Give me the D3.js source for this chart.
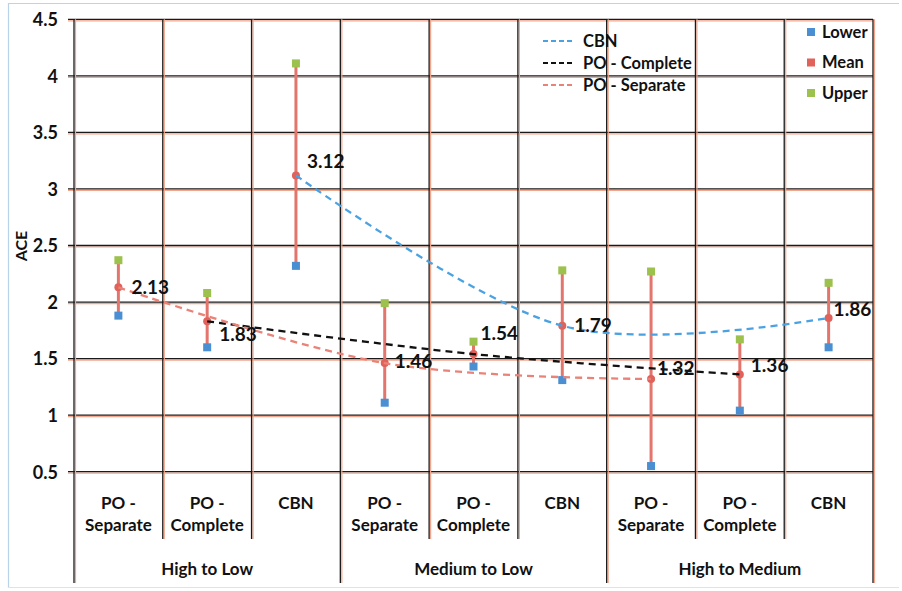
<!DOCTYPE html>
<html>
<head>
<meta charset="utf-8">
<script src="https://cdn.jsdelivr.net/npm/d3@7"></script>
<style>
  html, body { margin: 0; padding: 0; background: #fff; }
  svg { display: block; }
  text { font-family: Lato, "Open Sans", sans-serif; font-weight: bold; fill: #111; }
</style>
</head>
<body>
<svg id="chart" width="902" height="591"></svg>
<script>
// ---- data ----
const categories = ["PO - Separate", "PO - Complete", "CBN",
                    "PO - Separate", "PO - Complete", "CBN",
                    "PO - Separate", "PO - Complete", "CBN"];
const groups = ["High to Low", "Medium to Low", "High to Medium"];
const lowerValues = [1.88, 1.60, 2.32, 1.11, 1.43, 1.31, 0.55, 1.04, 1.60];
const meanValues  = [2.13, 1.83, 3.12, 1.46, 1.54, 1.79, 1.32, 1.36, 1.86];
const upperValues = [2.37, 2.08, 4.11, 1.99, 1.65, 2.28, 2.27, 1.67, 2.17];
const yTicks = [0.5, 1, 1.5, 2, 2.5, 3, 3.5, 4, 4.5];
const trendSeries = ["CBN", "PO - Complete", "PO - Separate"];
const pointSeries = ["Lower", "Mean", "Upper"];

// ---- layout / style ----
const plot = { left: 74, right: 873, top: 19.3, bottom: 471.7 };
const trendColors = { "CBN": "#4aa2e2", "PO - Complete": "#111111", "PO - Separate": "#ea8277" };
const pointColors = { "Lower": "#4a8fd2", "Mean": "#e0625a", "Upper": "#9cc14d" };
const barColor = "#e4756c";
// label offsets relative to mean point [dx, dy]
const labelOffsets = [[13, 0], [12, 13], [11, -14], [10, -2], [7, -21], [12, 0], [6, -11], [11, -9], [5, -9]];

const svg = d3.select("#chart");

const x = d3.scaleBand().domain(d3.range(categories.length)).range([plot.left, plot.right]).padding(0);
const y = d3.scaleLinear().domain([0.5, 4.5]).range([plot.bottom, plot.top]);
const cx = i => x(i) + x.bandwidth() / 2;

// outer frame
svg.append("line").attr("x1", 8.5).attr("x2", 8.5).attr("y1", 3).attr("y2", 588).attr("stroke", "#b9d3e8").attr("stroke-width", 1.2);
svg.append("line").attr("x1", 8).attr("x2", 899).attr("y1", 3.5).attr("y2", 3.5).attr("stroke", "#f2c2b2").attr("stroke-width", 1.2);
svg.append("line").attr("x1", 8).attr("x2", 899).attr("y1", 587.5).attr("y2", 587.5).attr("stroke", "#f4dcd2").attr("stroke-width", 1);

// horizontal gridlines (salmon shadow + black)
svg.append("g").selectAll("line").data(yTicks).join("line")
  .attr("x1", plot.left - 6).attr("x2", plot.right)
  .attr("y1", d => y(d) + 1.5).attr("y2", d => y(d) + 1.5)
  .attr("stroke", "#f3a68c").attr("stroke-width", 1.2);

const yAxis = d3.axisLeft(y).tickValues(yTicks).tickSize(0).tickPadding(0).tickFormat(d3.format("~g"));
const gy = svg.append("g").attr("transform", `translate(${plot.left},0)`).call(yAxis);
gy.select(".domain").remove();
gy.attr("font-family", null).attr("font-size", null);
gy.selectAll(".tick text").attr("x", -16).attr("dy", "0.35em")
  .style("font-size", "18px").style("font-weight", "bold").style("font-family", "Lato, sans-serif").attr("fill", "#111");
svg.append("g").selectAll("line").data(yTicks).join("line")
  .attr("x1", plot.left - 6).attr("x2", plot.right)
  .attr("y1", d => y(d)).attr("y2", d => y(d))
  .attr("stroke", "#1a1a1a").attr("stroke-width", 1.3);

// vertical dividers
const dividers = d3.range(categories.length + 1);
const divX = i => (i < categories.length ? x(i) : plot.right);
svg.append("g").selectAll("line").data(dividers).join("line")
  .attr("x1", i => divX(i) + 1.5).attr("x2", i => divX(i) + 1.5)
  .attr("y1", plot.top).attr("y2", i => (i % 3 === 0 ? 583 : 539))
  .attr("stroke", "#f3a68c").attr("stroke-width", 1.2);
svg.append("g").selectAll("line").data(dividers).join("line")
  .attr("x1", divX).attr("x2", divX)
  .attr("y1", plot.top).attr("y2", i => (i % 3 === 0 ? 583 : 539))
  .attr("stroke", "#1a1a1a").attr("stroke-width", 1.3);

// category labels
const catG = svg.append("g");
categories.forEach((c, i) => {
  const parts = c.split(" - ");
  const t = catG.append("text").attr("text-anchor", "middle").style("font-size", "17px");
  if (parts.length === 2) {
    t.append("tspan").attr("x", cx(i)).attr("y", 509).text(parts[0] + " -");
    t.append("tspan").attr("x", cx(i)).attr("y", 531).text(parts[1]);
  } else {
    t.append("tspan").attr("x", cx(i)).attr("y", 509).text(c);
  }
});
// group labels
svg.append("g").selectAll("text").data(groups).join("text")
  .attr("x", (d, gi) => (x(gi * 3) + x(gi * 3 + 2) + x.bandwidth()) / 2)
  .attr("y", 575).attr("text-anchor", "middle").style("font-size", "17px")
  .text(d => d);

// y label
svg.append("text").attr("transform", "translate(27,246) rotate(-90)")
  .attr("text-anchor", "middle").style("font-size", "16px").text("ACE");

// error bars
svg.append("g").selectAll("line").data(d3.range(categories.length)).join("line")
  .attr("x1", cx).attr("x2", cx)
  .attr("y1", i => y(lowerValues[i])).attr("y2", i => y(upperValues[i]))
  .attr("stroke", barColor).attr("stroke-width", 3);

// markers
const sq = 8;
svg.append("g").selectAll("rect").data(d3.range(categories.length)).join("rect")
  .attr("x", i => cx(i) - sq / 2).attr("y", i => y(lowerValues[i]) - sq / 2)
  .attr("width", sq).attr("height", sq).attr("fill", pointColors.Lower);
svg.append("g").selectAll("rect").data(d3.range(categories.length)).join("rect")
  .attr("x", i => cx(i) - sq / 2).attr("y", i => y(upperValues[i]) - sq / 2)
  .attr("width", sq).attr("height", sq).attr("fill", pointColors.Upper);
svg.append("g").selectAll("circle").data(d3.range(categories.length)).join("circle")
  .attr("cx", cx).attr("cy", i => y(meanValues[i]))
  .attr("r", 4).attr("fill", pointColors.Mean);

// trend lines (smoothed) through means of each method
const line = d3.line().x(i => cx(i)).y(i => y(meanValues[i])).curve(d3.curveCardinal.tension(0));
trendSeries.forEach(s => {
  const idx = d3.range(categories.length).filter(i => categories[i] === s);
  svg.append("path").datum(idx).attr("d", line)
    .attr("fill", "none").attr("stroke", trendColors[s]).attr("stroke-width", 2.3)
    .attr("stroke-dasharray", "7,5");
});

// data labels
svg.append("g").selectAll("text").data(d3.range(categories.length)).join("text")
  .attr("x", i => cx(i) + labelOffsets[i][0])
  .attr("y", i => y(meanValues[i]) + labelOffsets[i][1])
  .attr("dy", "0.35em").style("font-size", "19px")
  .text(i => meanValues[i].toFixed(2));

// legend: trend lines
const lg = svg.append("g");
trendSeries.forEach((s, k) => {
  const yy = 41 + k * 22;
  lg.append("line").attr("x1", 543).attr("x2", 573).attr("y1", yy).attr("y2", yy)
    .attr("stroke", trendColors[s]).attr("stroke-width", 1.8).attr("stroke-dasharray", "5,3");
  lg.append("text").attr("x", 583).attr("y", yy).attr("dy", "0.35em").style("font-size", "16.5px").text(s);
});
// legend: points
pointSeries.forEach((s, k) => {
  const yy = 32 + k * 30.5;
  lg.append("rect").attr("x", 807).attr("y", yy - 4).attr("width", 8).attr("height", 8).attr("fill", pointColors[s]);
  lg.append("text").attr("x", 822).attr("y", yy).attr("dy", "0.35em").style("font-size", "16.5px").text(s);
});
</script>
</body>
</html>
